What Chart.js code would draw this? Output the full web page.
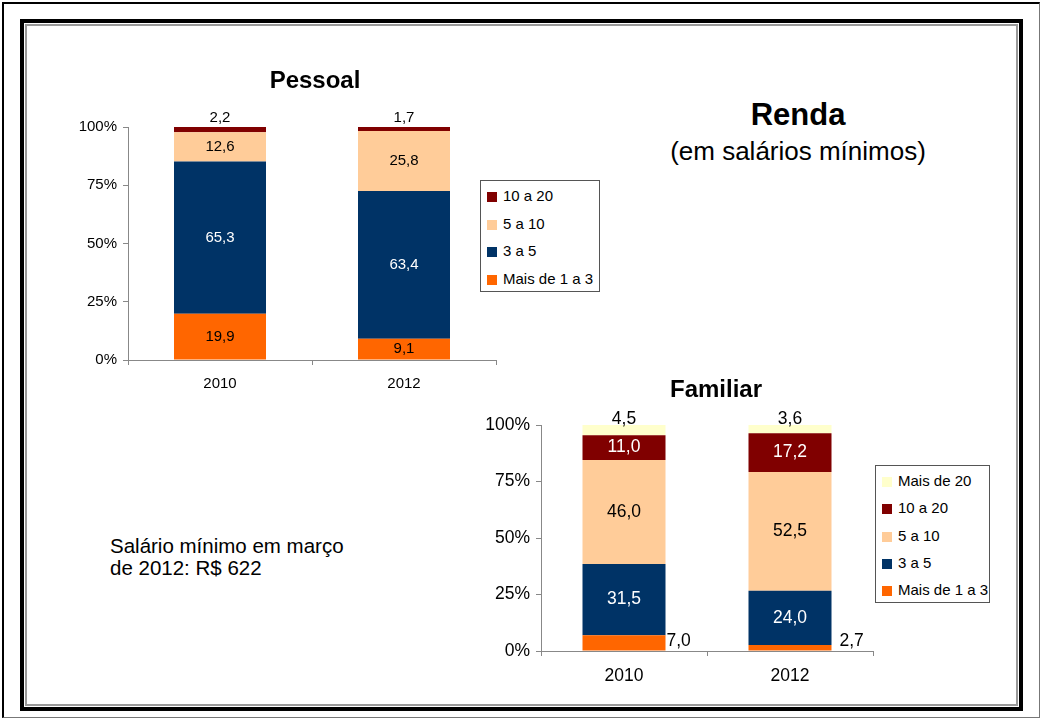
<!DOCTYPE html>
<html>
<head>
<meta charset="utf-8">
<script src="https://cdn.jsdelivr.net/npm/chart.js@4.4.1/dist/chart.umd.min.js"></script>
<style>
  body { margin: 0; background: #fff; font-family: "Liberation Sans", Arial, sans-serif; }
  #page { position: relative; width: 1041px; height: 720px; overflow: hidden; }
  .abs { position: absolute; }
  #moldura1 { left: 2px; top: 2px; width: 1038px; height: 716px; box-sizing: border-box;
    border-top: 2px solid #000; border-left: 2px solid #000; border-right: 1px solid #777; border-bottom: 1px solid #777; }
  #moldura2 { left: 20px; top: 19px; width: 1003px; height: 692px; box-sizing: border-box;
    border: 4px solid #000; box-shadow: inset 0 0 0 1px #fff, inset 0 0 0 3px #999; }
  .legenda { background: #fff; border: 1px solid #555; box-sizing: border-box; font-size: 15px; color: #000; }
  .legenda div { position: absolute; left: 6px; height: 18px; line-height: 18px; white-space: nowrap; }
  .legenda span { display: inline-block; width: 10px; height: 10px; margin-right: 6px; vertical-align: -1px; }
  .titulo { text-align: center; font-size: 24px; font-weight: bold; line-height: 24px; width: 200px; }
</style>
</head>
<body>
<div id="page">
  <div id="moldura1" class="abs"></div>
  <div id="moldura2" class="abs"></div>

  <div class="abs" style="left:40px;top:60px;width:550px;height:340px;"><canvas id="pessoal"></canvas></div>
  <div class="abs" style="left:470px;top:365px;width:492px;height:326px;"><canvas id="familiar"></canvas></div>

  <div class="abs titulo" style="left:215px;top:68px;">Pessoal</div>
  <div class="abs titulo" style="left:616px;top:377px;">Familiar</div>

  <div id="leg1" class="abs legenda" style="left:480px;top:180px;width:120px;height:112px;"></div>
  <div id="leg2" class="abs legenda" style="left:875px;top:465px;width:115px;height:138px;"></div>

  <div class="abs" style="left:698px;top:99px;width:200px;text-align:center;font-size:31px;font-weight:bold;line-height:31px;">Renda</div>
  <div class="abs" style="left:648px;top:138px;width:300px;text-align:center;font-size:26px;line-height:26px;">(em salários mínimos)</div>
  <div class="abs" style="left:110px;top:535px;font-size:20.5px;line-height:22px;">Salário mínimo em março<br>de 2012: R$ 622</div>
</div>

<script>
// dados
const anos = ['2010', '2012'];
const yTicks = [0, 25, 50, 75, 100];

const faixasPessoal = ['Mais de 1 a 3', '3 a 5', '5 a 10', '10 a 20'];
const pessoal1a3 = [19.9, 9.1];
const pessoal3a5 = [65.3, 63.4];
const pessoal5a10 = [12.6, 25.8];
const pessoal10a20 = [2.2, 1.7];

const faixasFamiliar = ['Mais de 1 a 3', '3 a 5', '5 a 10', '10 a 20', 'Mais de 20'];
const familiar1a3 = [7.0, 2.7];
const familiar3a5 = [31.5, 24.0];
const familiar5a10 = [46.0, 52.5];
const familiar10a20 = [11.0, 17.2];
const familiarMais20 = [4.5, 3.6];

const cores = ['#FF6600', '#003366', '#FFCC99', '#800000', '#FFFFCC'];
const eixoCor = '#888888';

// rotulos dos segmentos
const rotulos = {
  id: 'rotulos',
  afterDatasetsDraw(chart, args, opts) {
    const ctx = chart.ctx;
    ctx.save();
    ctx.font = opts.font;
    chart.data.datasets.forEach((ds, i) => {
      const meta = chart.getDatasetMeta(i);
      const pos = opts.pos[i] || 'center';
      meta.data.forEach((bar, j) => {
        const txt = ds.data[j].toFixed(1).replace('.', ',');
        let x = bar.x, y = (bar.y + bar.base) / 2;
        ctx.textAlign = 'center';
        ctx.textBaseline = 'middle';
        ctx.fillStyle = opts.colors[i];
        if (pos === 'above') {
          y = bar.y - opts.aboveOffset;
          ctx.fillStyle = '#000';
        } else if (pos === 'right') {
          ctx.textAlign = 'left';
          x = bar.x + bar.width / 2 + opts.rightOffset[j];
          y = bar.base - 9;
          ctx.fillStyle = '#000';
        }
        ctx.fillText(txt, x, y);
      });
    });
    ctx.restore();
  }
};

function montaDatasets(nomes, series) {
  return series.map((s, i) => ({
    label: nomes[i],
    data: s,
    backgroundColor: cores[i],
    borderWidth: 0,
    barPercentage: 0.5,
    categoryPercentage: 1
  }));
}

function montaLegenda(id, nomes, passo) {
  const el = document.getElementById(id);
  const n = nomes.length;
  for (let k = 0; k < n; k++) {
    const i = n - 1 - k;
    const d = document.createElement('div');
    d.style.top = (6 + k * passo) + 'px';
    d.innerHTML = '<span style="background:' + cores[i] + '"></span>' + nomes[i];
    el.appendChild(d);
  }
}

function opcoes(padTopo, tamFonte, yLarg, padDir, rot) {
  return {
    responsive: true,
    maintainAspectRatio: false,
    animation: false,
    layout: { padding: { left: 0, right: padDir, top: padTopo, bottom: 0 } },
    plugins: {
      legend: { display: false },
      tooltip: { enabled: false },
      rotulos: rot
    },
    scales: {
      x: {
        stacked: true,
        grid: { display: true, offset: true, drawOnChartArea: false, drawTicks: true, tickLength: 5, color: eixoCor },
        border: { color: eixoCor, width: 1 },
        ticks: { color: '#000', font: { family: 'Liberation Sans', size: tamFonte }, padding: 10 },
        afterFit: s => { s.height = 40; }
      },
      y: {
        stacked: true, min: 0, max: 100,
        afterBuildTicks: s => { s.ticks = yTicks.map(v => ({ value: v })); },
        grid: { display: true, drawOnChartArea: false, drawTicks: true, tickLength: 5, color: eixoCor },
        border: { color: eixoCor, width: 1 },
        ticks: { color: '#000', font: { family: 'Liberation Sans', size: tamFonte }, padding: 6,
          callback: v => v + '%' },
        afterFit: s => { s.width = yLarg; }
      }
    }
  };
}

new Chart(document.getElementById('pessoal'), {
  type: 'bar',
  data: {
    labels: anos,
    datasets: montaDatasets(faixasPessoal, [pessoal1a3, pessoal3a5, pessoal5a10, pessoal10a20])
  },
  options: opcoes(67, 15, 88, 94, {
    font: '15px "Liberation Sans"',
    colors: ['#000', '#fff', '#000', '#000'],
    pos: ['center', 'center', 'center', 'above'],
    aboveOffset: 9,
    rightOffset: [0, 0]
  }),
  plugins: [rotulos]
});

new Chart(document.getElementById('familiar'), {
  type: 'bar',
  data: {
    labels: anos,
    datasets: montaDatasets(faixasFamiliar, [familiar1a3, familiar3a5, familiar5a10, familiar10a20, familiarMais20])
  },
  options: opcoes(60, 17.5, 71, 89, {
    font: '17.5px "Liberation Sans"',
    colors: ['#000', '#fff', '#000', '#fff', '#000'],
    pos: ['right', 'center', 'center', 'center', 'above'],
    aboveOffset: 6,
    rightOffset: [1, 8]
  }),
  plugins: [rotulos]
});

montaLegenda('leg1', faixasPessoal, 27.7);
montaLegenda('leg2', faixasFamiliar, 27.3);
</script>
</body>
</html>
